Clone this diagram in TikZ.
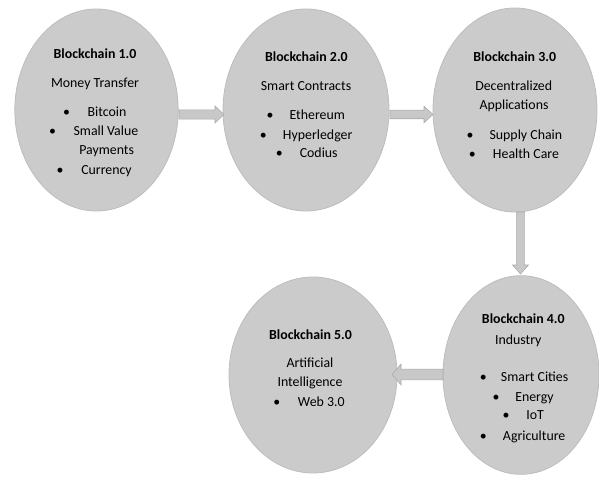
\documentclass[tikz,border=0pt]{standalone}
\usepackage{fontspec}
\setmainfont{Carlito}
\usetikzlibrary{shapes.geometric,calc}

\definecolor{bubblefill}{HTML}{CBCBCB}
\definecolor{bubbleedge}{HTML}{BDBDBD}
\definecolor{arrowfill}{HTML}{C8C8C8}
\definecolor{arrowedge}{HTML}{A9A9A9}

\tikzset{
  bubble/.style={ellipse, fill=bubblefill, draw=bubbleedge, line width=0.6pt, inner sep=0pt},
  txt/.style={anchor=base, inner sep=0pt, font=\fontsize{10.4pt}{12pt}\selectfont},
  title/.style={txt, font=\fontsize{10.4pt}{12pt}\selectfont\bfseries},
  itemtxt/.style={txt, anchor=base west},
  dot/.style={txt},
  arrowbody/.style={fill=arrowfill, draw=arrowedge, line width=0.4pt, line join=miter}
}

% block arrow from #1 to #2 (tip), shaft half width #3, head half width #4
\newcommand\blockarrow[4]{%
  \coordinate (hb) at ($(#2)!6.75pt!(#1)$);
  \filldraw[arrowbody]
    ($(#1)!#3!90:(#2)$) -- ($(hb)!#3!90:(#2)$) -- ($(hb)!#4!90:(#2)$) -- (#2)
    -- ($(hb)!#4!-90:(#2)$) -- ($(hb)!#3!-90:(#2)$) -- ($(#1)!#3!-90:(#2)$) -- cycle;}

\begin{document}
\begin{tikzpicture}[x=0.75pt, y=-0.75pt]
\useasboundingbox (0,0) rectangle (599,477);

% stages
\node[bubble, minimum width=122.5pt, minimum height=151.5pt] (e1) at (96.5,110) {};
\node[bubble, minimum width=124.5pt, minimum height=151.5pt] (e2) at (306,110) {};
\node[bubble, minimum width=123pt,   minimum height=153pt]   (e3) at (515,110) {};
\node[bubble, minimum width=117pt,   minimum height=149pt]   (e4) at (521,375) {};
\node[bubble, minimum width=126pt,   minimum height=147pt]   (e5) at (313,375) {};

% connectors
\coordinate (a1s) at (179,114.5);  \coordinate (a1t) at (224,114.5);
\coordinate (a2s) at (390,114.5);  \coordinate (a2t) at (433,114.5);
\coordinate (a3s) at (520.5,212);  \coordinate (a3t) at (520.5,274);
\coordinate (a4s) at (443,374.5);  \coordinate (a4t) at (392,374.5);
\blockarrow{a1s}{a1t}{3.4pt}{6.4pt}
\blockarrow{a2s}{a2t}{3.2pt}{6.2pt}
\blockarrow{a3s}{a3t}{2.9pt}{6.0pt}
\blockarrow{a4s}{a4t}{4.0pt}{7.8pt}

% Blockchain 1.0
\node[title] (h1) at (95,58.3) {Blockchain 1.0};
\node[txt] (s1) at (95,87.7) {Money Transfer};
\node[dot] (b1a) at (66.7,116.7) {•};   \node[itemtxt] (t1a) at (87.3,116.7) {Bitcoin};
\node[dot] (b1b) at (52.7,136) {•};     \node[itemtxt] (t1b) at (73.3,136) {Small Value};
\node[itemtxt] (t1c) at (79,154.7) {Payments};
\node[dot] (b1d) at (60,175) {•};       \node[itemtxt] (t1d) at (81,175) {Currency};

% Blockchain 2.0
\node[title] (h2) at (306.4,61.7) {Blockchain 2.0};
\node[txt] (s2) at (306,91) {Smart Contracts};
\node[dot] (b2a) at (270,120) {•};      \node[itemtxt] (t2a) at (289.3,120) {Ethereum};
\node[dot] (b2b) at (263.3,139.5) {•};  \node[itemtxt] (t2b) at (282.7,139.5) {Hyperledger};
\node[dot] (b2c) at (279.3,158) {•};    \node[itemtxt] (t2c) at (299.5,158) {Codius};

% Blockchain 3.0
\node[title] (h3) at (514.7,61.7) {Blockchain 3.0};
\node[txt] (s3a) at (513.7,91) {Decentralized};
\node[txt] (s3b) at (514,110) {Applications};
\node[dot] (b3a) at (470,139.3) {•};    \node[itemtxt] (t3a) at (489.3,139.3) {Supply Chain};
\node[dot] (b3b) at (472.3,159) {•};    \node[itemtxt] (t3b) at (492.7,159) {Health Care};

% Blockchain 4.0
\node[title] (h4) at (523.3,323.3) {Blockchain 4.0};
\node[txt] (s4) at (518.3,344) {Industry};
\node[dot] (b4a) at (483.3,381.7) {•};  \node[itemtxt] (t4a) at (500.7,381.7) {Smart Cities};
\node[dot] (b4b) at (496,401) {•};      \node[itemtxt] (t4b) at (515,401) {Energy};
\node[dot] (b4c) at (506,419.3) {•};    \node[itemtxt] (t4c) at (526,419.3) {IoT};
\node[dot] (b4d) at (483.3,440) {•};    \node[itemtxt] (t4d) at (502.7,440) {Agriculture};

% Blockchain 5.0
\node[title] (h5) at (310.5,339.3) {Blockchain 5.0};
\node[txt] (s5a) at (310,367.7) {Artificial};
\node[txt] (s5b) at (310,386) {Intelligence};
\node[dot] (b5a) at (276.7,406.7) {•};  \node[itemtxt] (t5a) at (297.7,406.7) {Web 3.0};
\end{tikzpicture}
\end{document}
